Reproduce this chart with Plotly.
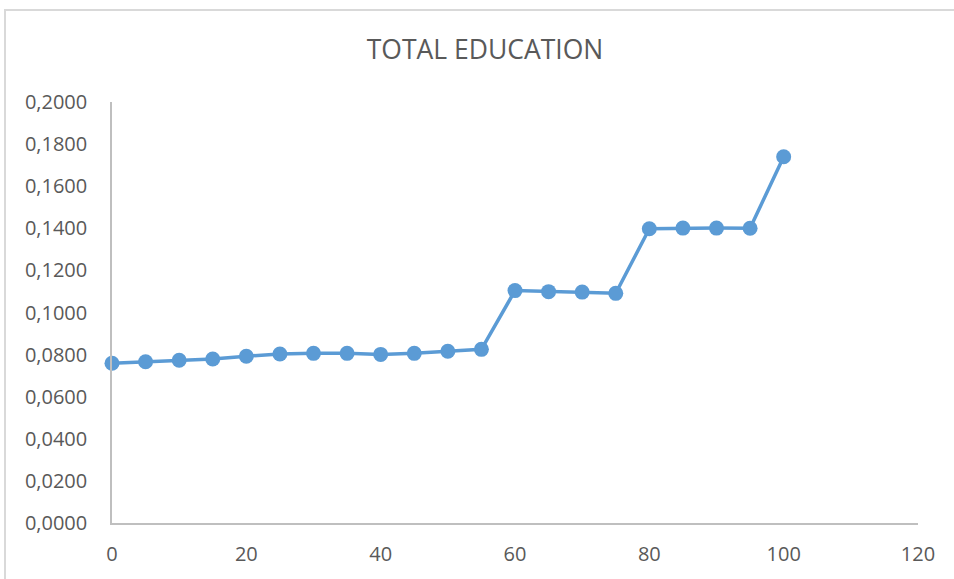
import plotly.graph_objects as go

# Data
x_values = [0, 5, 10, 15, 20, 25, 30, 35, 40, 45, 50, 55, 60, 65, 70, 75, 80, 85, 90, 95, 100]
y_values = [0.0759, 0.0766, 0.0773, 0.0779, 0.0792, 0.0803, 0.0806, 0.0806, 0.0801, 0.0806,
            0.0816, 0.0825, 0.1104, 0.1099, 0.1097, 0.1091, 0.1398, 0.1401, 0.1401, 0.1400, 0.1740]
y_ticks = [0.0, 0.02, 0.04, 0.06, 0.08, 0.10, 0.12, 0.14, 0.16, 0.18, 0.20]
x_ticks = [0, 20, 40, 60, 80, 100, 120]

W, H = 954, 579
L, R, T, B = 112, 918, 102, 523  # plot area in pixels

BLUE = "#5B9BD5"
TEXT = "#595959"
AXIS = "#BFBFBF"
FONT = "Open Sans, Liberation Sans, sans-serif"

fig = go.Figure(
    go.Scatter(
        x=x_values, y=y_values, mode="lines+markers",
        line=dict(color=BLUE, width=3.5),
        marker=dict(color=BLUE, size=15, line=dict(width=0)),
        cliponaxis=False,
    )
)

def px_to_paper_x(px):
    return (px - L) / (R - L)

def px_to_paper_y(py):
    return (B - py) / (B - T)

# Chart-area border (left and top edges)
border = dict(color="#D9D9D9", width=2)
fig.add_shape(type="line", xref="paper", yref="paper",
              x0=px_to_paper_x(5), x1=px_to_paper_x(5),
              y0=px_to_paper_y(10), y1=px_to_paper_y(600), line=border)
fig.add_shape(type="line", xref="paper", yref="paper",
              x0=px_to_paper_x(4), x1=px_to_paper_x(970),
              y0=px_to_paper_y(10), y1=px_to_paper_y(10), line=border)

fig.update_layout(
    width=W, height=H,
    margin=dict(l=L, r=W - R, t=T, b=H - B, pad=0),
    paper_bgcolor="white", plot_bgcolor="white",
    separators=",.",
    showlegend=False,
    font=dict(family=FONT, color=TEXT, size=20),
    title=dict(text="TOTAL EDUCATION", xref="container", yref="container",
               x=485 / W, y=1 - 50 / H, xanchor="center", yanchor="middle",
               font=dict(family=FONT, size=26.5, color=TEXT)),
    xaxis=dict(range=[0, 120], tickvals=x_ticks, showgrid=False, zeroline=False,
               showline=True, linecolor=AXIS, linewidth=1.5, ticks="",
               ticklabelstandoff=12, tickfont=dict(size=20, color=TEXT)),
    yaxis=dict(range=[0, 0.2], tickvals=y_ticks, tickformat=".4f", showgrid=False,
               zeroline=False, showline=True, linecolor=AXIS, linewidth=1.5, ticks="",
               ticklabelstandoff=19, tickfont=dict(size=20, color=TEXT)),
)

fig.write_html("out.html")
